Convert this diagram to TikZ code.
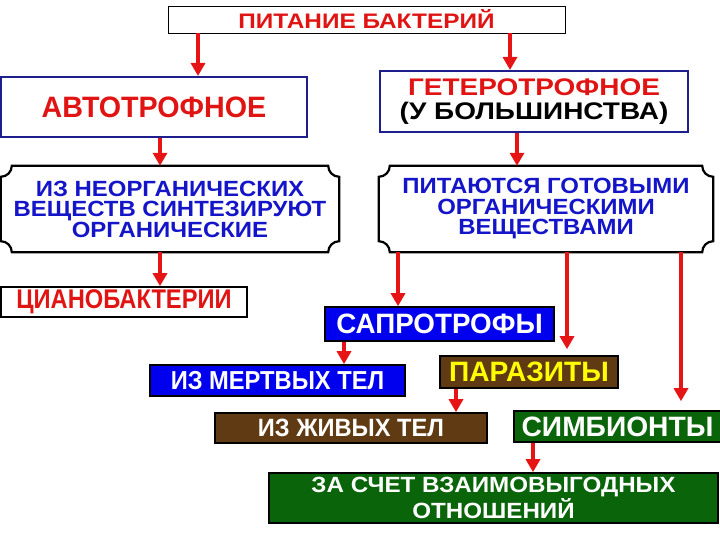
\documentclass[tikz,border=0pt]{standalone}
\usepackage{fontspec}
\setmainfont{Liberation Sans}
\usetikzlibrary{arrows.meta}
\newcommand\fz[3]{\fontsize{#1}{#2}\selectfont\bfseries\addfontfeature{FakeStretch=#3}}
\definecolor{txtred}{RGB}{225,20,20}
\definecolor{arrred}{RGB}{230,20,20}
\definecolor{navyb}{RGB}{30,30,140}
\definecolor{scrblue}{RGB}{20,20,200}
\definecolor{fillblue}{RGB}{0,0,238}
\definecolor{brownf}{RGB}{96,58,18}
\definecolor{greenf}{RGB}{10,100,10}
\definecolor{yel}{RGB}{255,255,0}
\begin{document}
\begin{tikzpicture}[x=1pt,y=1pt,
  arr/.style={draw=arrred, line width=4.5pt, -{Triangle[width=14pt,length=13pt]}},
  lbl/.style={rectangle, inner sep=0pt, align=center},
  plaqueline/.style={draw=black, line width=2.2pt}]
\useasboundingbox (0,0) rectangle (720,540);
\clip (0,0) rectangle (720,540);
% nodes
\node[lbl, draw=black, line width=0.8pt, fill=white, minimum width=397pt, minimum height=27pt, text=txtred, font=\fz{21}{21}{1.16}] (title) at (366.5,520.5) {ПИТАНИЕ БАКТЕРИЙ};
\node[lbl, draw=navyb, line width=2pt, minimum width=306pt, minimum height=60pt, text=txtred, font=\fz{29.5}{29.5}{0.972}] (auto) at (154,433) {АВТОТРОФНОЕ};
\node[lbl, draw=navyb, line width=2pt, minimum width=308pt, minimum height=61pt, text=txtred, font=\fz{24}{23.5}{1.165}] (hetero) at (534,438.5) {ГЕТЕРОТРОФНОЕ\\\textcolor{black}{(У БОЛЬШИНСТВА)}};
\node[lbl, minimum width=338pt, minimum height=86pt, text=scrblue, font=\fz{22}{20.5}{1.088}] (scrl) at (170,331) {ИЗ НЕОРГАНИЧЕСКИХ\\ВЕЩЕСТВ СИНТЕЗИРУЮТ\\ОРГАНИЧЕСКИЕ};
\node[lbl, minimum width=334pt, minimum height=86pt, text=scrblue, font=\fz{22}{20.5}{1.088}] (scrr) at (546,331) {ПИТАЮТСЯ ГОТОВЫМИ\\ОРГАНИЧЕСКИМИ\\ВЕЩЕСТВАМИ};
\foreach \n in {scrl,scrr}{
\draw[plaqueline] ([xshift=11pt]\n.north west) -- ([xshift=-11pt]\n.north east)
  arc[start angle=180,end angle=270,radius=11pt] -- ([yshift=11pt]\n.south east)
  arc[start angle=90,end angle=180,radius=11pt] -- ([xshift=11pt]\n.south west)
  arc[start angle=0,end angle=90,radius=11pt] -- ([yshift=-11pt]\n.north west)
  arc[start angle=-90,end angle=0,radius=11pt] -- cycle;
}
\node[lbl, draw=black, line width=1.6pt, fill=white, minimum width=246pt, minimum height=30pt, text=txtred, font=\fz{27}{27}{0.877}] (cyano) at (124,238) {ЦИАНОБАКТЕРИИ};
\node[lbl, draw=black, line width=1.6pt, fill=fillblue, minimum width=229pt, minimum height=34pt, text=white, font=\fz{28}{28}{0.992}] (sapro) at (439.5,216) {САПРОТРОФЫ};
\node[lbl, draw=black, line width=1.6pt, fill=fillblue, minimum width=255pt, minimum height=31pt, text=white, font=\fz{26}{26}{0.911}] (dead) at (277.5,159.5) {ИЗ МЕРТВЫХ ТЕЛ};
\node[lbl, draw=black, line width=1.6pt, fill=brownf, minimum width=178pt, minimum height=32pt, text=yel, font=\fz{28}{28}{1.004}] (para) at (529,168) {ПАРАЗИТЫ};
\node[lbl, draw=black, line width=1.6pt, fill=brownf, minimum width=272pt, minimum height=30pt, text=white, font=\fz{25}{25}{0.946}] (alive) at (351,112) {ИЗ ЖИВЫХ ТЕЛ};
\node[lbl, draw=black, line width=1.6pt, fill=greenf, minimum width=207pt, minimum height=31pt, text=white, font=\fz{28}{28}{1.007}] (symb) at (617.5,113.5) {СИМБИОНТЫ};
\node[lbl, draw=black, line width=1.6pt, fill=greenf, minimum width=449pt, minimum height=50pt, text=white, font=\fz{22}{19}{1.098}] (mutual) at (493.5,42) {ЗА СЧЕТ ВЗАИМОВЫГОДНЫХ\\ОТНОШЕНИЙ};
% arrow columns
\coordinate (c198) at (198,0);
\coordinate (c510) at (510,0);
\coordinate (c160) at (160,0);
\coordinate (c517) at (517,0);
\coordinate (c398) at (398,0);
\coordinate (c567) at (567,0);
\coordinate (c681) at (681,0);
\coordinate (c344) at (344,0);
\coordinate (c456) at (456,0);
\coordinate (c533) at (533,0);
% connectors
\draw[arr] (title.south -| c198) -- (auto.north -| c198);
\draw[arr] (title.south -| c510) -- (hetero.north -| c510);
\draw[arr] (auto.south -| c160) -- (scrl.north -| c160);
\draw[arr] (hetero.south -| c517) -- (scrr.north -| c517);
\draw[arr] (scrl.south -| c160) -- (cyano.north -| c160);
\draw[arr] (scrr.south -| c398) -- (sapro.north -| c398);
\draw[arr, shorten >=6pt] (scrr.south -| c567) -- (para.north -| c567);
\draw[arr, shorten >=9pt] (scrr.south -| c681) -- (symb.north -| c681);
\draw[arr] (sapro.south -| c344) -- (dead.north -| c344);
\draw[arr] (para.south -| c456) -- (alive.north -| c456);
\draw[arr] (symb.south -| c533) -- (mutual.north -| c533);
\end{tikzpicture}
\end{document}
